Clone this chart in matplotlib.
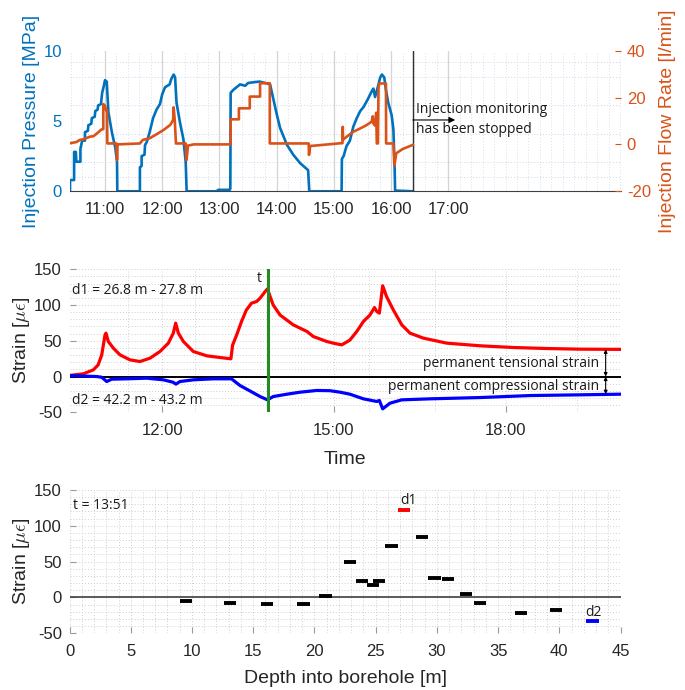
import matplotlib
matplotlib.use("Agg")
import matplotlib.pyplot as plt
from matplotlib.ticker import FixedLocator, MultipleLocator

plt.rcParams["font.family"] = ["Liberation Sans", "DejaVu Sans"]
plt.rcParams["mathtext.fontset"] = "cm"
plt.rcParams["axes.unicode_minus"] = False

# ---------------- injection record (time in decimal hours) ----------------
p_time = [10.388, 10.388, 10.46, 10.46, 10.49, 10.50, 10.57, 10.57, 10.60, 10.65, 10.65,
          10.70, 10.71, 10.76, 10.77, 10.82, 10.83, 10.87, 10.88, 10.93, 10.95, 10.98,
          11.00, 11.03, 11.06, 11.12, 11.18, 11.21, 11.215,
          11.61, 11.61, 11.64, 11.64, 11.69, 11.70, 11.73, 11.78, 11.84, 11.90, 11.96,
          12.00, 12.05, 12.13, 12.16, 12.20, 12.225, 12.25, 12.31, 12.37, 12.41, 12.427,
          12.95, 12.98, 13.18, 13.19, 13.196, 13.24, 13.30, 13.36, 13.45, 13.50, 13.59,
          13.70, 13.80, 13.885, 13.94, 14.00, 14.06, 14.18, 14.29, 14.41, 14.55, 14.57,
          15.135, 15.14, 15.17, 15.22, 15.28, 15.34, 15.40, 15.46, 15.52, 15.60, 15.66,
          15.69, 15.72, 15.78, 15.81, 15.84, 15.88, 15.91, 15.95, 16.01, 16.04, 16.06,
          16.07, 16.38]
p_mpa = [0.0, 0.8, 0.8, 2.8, 2.8, 2.1, 2.1, 3.0, 3.6, 3.6, 4.2,
         4.3, 4.7, 4.8, 5.2, 5.3, 5.7, 5.8, 6.1, 6.2, 7.0, 7.5,
         7.9, 7.8, 5.6, 4.2, 3.1, 2.1, 0.0,
         0.0, 1.7, 1.8, 2.5, 2.6, 3.3, 3.5, 4.2, 5.2, 5.8, 6.2,
         6.9, 7.4, 7.6, 8.0, 8.3, 8.1, 6.3, 4.9, 3.7, 2.1, 0.0,
         0.0, 0.1, 0.1, 0.2, 7.0, 7.2, 7.4, 7.6, 7.5, 7.7, 7.75,
         7.8, 7.7, 7.6, 6.6, 5.5, 4.5, 3.3, 2.6, 2.0, 1.5, 0.0,
         0.0, 2.3, 2.5, 3.2, 3.6, 4.6, 5.2, 5.7, 6.0, 6.6, 7.1,
         7.3, 6.7, 7.6, 8.1, 8.3, 8.1, 7.2, 6.3, 5.4, 4.4, 2.0,
         0.05, 0.0]

q_time = [10.388, 10.50, 10.56, 10.62, 10.74, 10.80, 10.86, 10.94, 10.97, 10.97, 11.00,
          11.02, 11.035, 11.04, 11.20, 11.21, 11.22,
          11.61, 11.66, 11.78, 11.90, 12.02, 12.14, 12.19, 12.20, 12.22, 12.24,
          12.41, 12.425, 12.45, 12.55,
          13.196, 13.196, 13.34, 13.34, 13.53, 13.53, 13.71, 13.71, 13.88, 13.88,
          14.56, 14.565, 14.585, 15.12, 15.15, 15.155, 15.16, 15.22, 15.34, 15.46,
          15.57, 15.66, 15.68, 15.69, 15.72, 15.74, 15.75, 15.77, 15.78, 15.79,
          15.91, 15.913, 16.04, 16.058, 16.09, 16.20, 16.30, 16.38]
q_lpm = [0.5, 1.0, 1.9, 2.2, 3.3, 3.5, 4.7, 6.4, 6.5, 17.2, 16.5,
         14.5, 14.5, 0.4, 0.4, -6.7, 0.0,
         0.4, 1.9, 2.6, 4.3, 6.1, 8.3, 10.4, 15.8, 10.0, 0.4,
         0.4, -6.7, -0.5, 0.0,
         0.0, 10.7, 10.7, 15.4, 15.4, 20.4, 20.4, 26.1, 26.1, 0.4,
         0.4, -4.5, -0.7, 0.5, 0.5, 7.5, 2.0, 3.2, 5.4, 6.8,
         8.2, 9.7, 12.0, 9.0, 8.0, 13.5, 0.4, 0.4, 24.0, 26.0,
         26.0, 0.4, 0.4, -9.0, -3.8, -2.0, -1.0, -0.2]

monitor_stop = 16.38
hour_ticks = [11, 12, 13, 14, 15, 16, 17]
hour_labels = ["11:00", "12:00", "13:00", "14:00", "15:00", "16:00", "17:00"]

# ---------------- strain time series ----------------
d1_time = [10.376, 10.62, 10.796, 10.88, 10.942, 11.0, 11.017, 11.058, 11.146, 11.262,
           11.437, 11.612, 11.787, 11.96, 12.107, 12.194, 12.235, 12.282, 12.37, 12.544,
           12.778, 13.01, 13.2, 13.23, 13.3, 13.386, 13.47, 13.56, 13.65, 13.71, 13.8,
           13.84, 13.885, 13.94, 14.06, 14.29, 14.53, 14.64, 14.876, 15.0, 15.138,
           15.28, 15.40, 15.516, 15.63, 15.71, 15.75, 15.795, 15.853, 15.92, 16.04,
           16.187, 16.33, 16.565, 16.974, 17.556, 18.14, 18.72, 19.30, 20.01]
d1_strain = [1.4, 3.8, 9.3, 16.3, 30, 58, 60.7, 49, 39.7, 30.3,
             23.3, 21, 25.7, 35, 46.7, 60.7, 74.7, 60.7, 49, 35,
             29, 26.6, 24.8, 44, 58, 77, 93, 102.6, 105, 109.6, 119,
             122.7, 112, 100, 86, 72.3, 63, 56, 49, 46.5, 44.3,
             51, 63, 77, 86, 96.5, 91, 88.7, 127, 112, 93,
             72.3, 60.7, 53.7, 46.7, 43, 40.6, 39.2, 38.3, 38]

d2_time = [10.376, 10.855, 10.942, 11.03, 11.117, 11.38, 11.73, 12.02, 12.19, 12.24,
           12.31, 12.544, 12.89, 13.21, 13.36, 13.53, 13.71, 13.84, 13.94, 14.18,
           14.41, 14.70, 14.93, 15.108, 15.28, 15.516, 15.75, 15.795, 15.853, 15.98,
           16.187, 16.68, 17.556, 18.43, 19.30, 20.01]
d2_strain = [1.4, 0, -1, -7, -3.7, -3.2, -2.3, -4.6, -8, -10.6,
             -7, -4.6, -3.2, -3.2, -12.6, -20, -28, -32.6, -28, -24.7,
             -21.9, -19.5, -19.8, -21.9, -24.7, -31.2, -34.9, -33.5, -45.2, -37.3,
             -32.6, -31.2, -29.4, -26.6, -25.6, -24.7]

t_snapshot = 13.85
strain_hours = [12, 15, 18]
strain_hour_labels = ["12:00", "15:00", "18:00"]

# ---------------- strain profile along the borehole at t ----------------
seg_start = [9.0, 12.6, 15.6, 18.6, 20.4, 22.4, 23.4, 24.3, 24.8, 25.8,
             28.3, 29.3, 30.4, 31.9, 33.0, 36.4, 39.2]
seg_strain = [-5.2, -7.5, -8.5, -9.4, 1.4, 49.8, 23.3, 17.7, 23.3, 71.3,
              84.8, 27.4, 26.0, 4.2, -8.0, -21.0, -17.8]
seg_length = 1.0
d1_range = (26.8, 27.8)
d2_range = (42.2, 43.2)
d1_at_t = 122.5
d2_at_t = -33.0

# ---------------- styling ----------------
C_P = "#0072BD"
C_Q = "#D95319"
C_TXT = "#262626"
GRID_MAJ = "#d4d4d4"
GRID_MIN = "#cfcfcf"
ANN_FONT = ["Open Sans", "DejaVu Sans"]
XLIM = (10.38, 20.01)

fig = plt.figure(figsize=(6.85, 6.9), dpi=100)
L, W = 0.1015, 0.8044
ax1 = fig.add_axes([L, 0.7228, W, 0.2038])
axm = fig.add_axes([L, 0.4025, W, 0.2072])
axb = fig.add_axes([L, 0.0822, W, 0.2077])


def clean(ax, keep_bottom=False):
    for s in ["top", "right", "left"]:
        ax.spines[s].set_visible(False)
    ax.spines["bottom"].set_visible(keep_bottom)


# ---- top panel: pressure and flow rate ----
ax2 = ax1.twinx()
clean(ax1, keep_bottom=True)
clean(ax2)
ax1.spines["bottom"].set_color("#404040")
ax1.set_xlim(*XLIM)
ax1.set_ylim(0, 10)
ax2.set_ylim(-20, 40)
ax1.set_xticks(hour_ticks)
ax1.set_xticklabels(hour_labels)
ax1.xaxis.set_minor_locator(MultipleLocator(0.2))
ax1.set_yticks([0, 5, 10])
ax1.yaxis.set_minor_locator(FixedLocator([1, 2.1, 4.1, 6.1, 8.15, 9.2]))
ax2.set_yticks([-20, 0, 20, 40])
ax1.grid(True, which="major", axis="x", color=GRID_MAJ, lw=0.9, ls="-")
ax1.grid(True, which="minor", axis="x", color="#d6e0ea", lw=0.7, ls=(0, (1, 2)))
ax1.grid(True, which="minor", axis="y", color="#c9daea", lw=0.7, ls=(0, (1, 2)))
ax1.tick_params(axis="x", which="both", length=0, pad=8, labelsize=12, labelcolor=C_TXT)
ax1.tick_params(axis="y", which="both", length=0, pad=5.5, labelsize=12, labelcolor=C_P)
ax2.tick_params(axis="y", which="major", direction="in", length=4, color=C_Q, pad=4.5,
                labelsize=12, labelcolor=C_Q)
ax2.tick_params(axis="y", which="minor", length=0)
ax1.set_ylabel("Injection Pressure [MPa]", color=C_P, fontsize=14)
ax1.yaxis.set_label_coords(-0.053, 0.5)
ax2.set_ylabel("Injection Flow Rate [l/min]", color=C_Q, fontsize=14)
ax2.yaxis.set_label_coords(1.069, 0.5)

ax1.plot(p_time, p_mpa, color=C_P, lw=1.9, zorder=3)
ax2.plot(q_time, q_lpm, color=C_Q, lw=1.9, zorder=3)
ax1.axvline(monitor_stop, color="#303030", lw=1.0, zorder=4)
ax1.annotate("", xy=(17.12, 5.07), xytext=(monitor_stop, 5.07),
             arrowprops=dict(arrowstyle="-|>", color="black", lw=0.8,
                             mutation_scale=9, shrinkA=0, shrinkB=0), zorder=5)
ax1.text(monitor_stop + 0.06, 5.78, "Injection monitoring", fontsize=10,
         family=ANN_FONT, color="#1a1a1a", va="center", ha="left")
ax1.text(monitor_stop + 0.06, 4.41, "has been stopped", fontsize=10,
         family=ANN_FONT, color="#1a1a1a", va="center", ha="left")

# ---- middle panel: strain history at two depth intervals ----
clean(axm)
axm.set_xlim(*XLIM)
axm.set_ylim(-50, 150)
axm.set_xticks(strain_hours)
axm.set_xticklabels(strain_hour_labels)
axm.set_yticks([-50, 0, 50, 100, 150])
axm.xaxis.set_minor_locator(FixedLocator([11.4, 12.58, 15.62, 16.77, 19.25]))
axm.yaxis.set_minor_locator(MultipleLocator(10))
axm.grid(True, which="both", color=GRID_MIN, lw=0.7, ls=(0, (1, 2)))
axm.tick_params(which="major", direction="in", length=4, color="#9a9a9a",
                labelsize=12, labelcolor=C_TXT)
axm.tick_params(axis="x", which="major", pad=8)
axm.tick_params(axis="y", which="major", pad=5.5)
axm.tick_params(which="minor", length=0)
axm.set_ylabel(r"Strain [$\mu\epsilon$]", fontsize=14, color=C_TXT)
axm.yaxis.set_label_coords(-0.069, 0.5)
axm.set_xlabel("Time", fontsize=14, color=C_TXT, va="top")
axm.xaxis.set_label_coords(0.5, -0.27)

axm.axhline(0, color="black", lw=1.4, zorder=2)
axm.plot(d1_time, d1_strain, color="#ff0000", lw=2.3, zorder=3)
axm.plot(d2_time, d2_strain, color="#0000ff", lw=2.3, zorder=3)
axm.axvline(t_snapshot, color="#228b22", lw=2.2, zorder=4)
axm.text(13.70, 137, "t", fontsize=10, family=ANN_FONT, ha="center", va="center",
         color="#1a1a1a")
axm.text(10.43, 121, "d1 = 26.8 m - 27.8 m", fontsize=10, family=ANN_FONT,
         va="center", ha="left", color="#1a1a1a")
axm.text(10.43, -34, "d2 = 42.2 m - 43.2 m", fontsize=10, family=ANN_FONT,
         va="center", ha="left", color="#1a1a1a")
arrow_t = 19.75
axm.annotate("", xy=(arrow_t, d1_strain[-1]), xytext=(arrow_t, 0),
             arrowprops=dict(arrowstyle="<|-|>", color="black", lw=0.8,
                             mutation_scale=5, shrinkA=0, shrinkB=0))
axm.annotate("", xy=(arrow_t, d2_strain[-1]), xytext=(arrow_t, 0),
             arrowprops=dict(arrowstyle="<|-|>", color="black", lw=0.8,
                             mutation_scale=5, shrinkA=0, shrinkB=0))
axm.text(19.64, 18.7, "permanent tensional strain", fontsize=10, family=ANN_FONT,
         ha="right", va="center", color="#1a1a1a")
axm.text(19.64, -14, "permanent compressional strain", fontsize=10, family=ANN_FONT,
         ha="right", va="center", color="#1a1a1a")

# ---- bottom panel: strain profile at t ----
clean(axb)
axb.set_xlim(0, 45)
axb.set_ylim(-50, 150)
axb.set_xticks(range(0, 46, 5))
axb.set_yticks([-50, 0, 50, 100, 150])
axb.xaxis.set_minor_locator(MultipleLocator(1))
axb.yaxis.set_minor_locator(MultipleLocator(10))
axb.grid(True, which="both", color=GRID_MIN, lw=0.7, ls=(0, (1, 2)))
axb.tick_params(which="major", direction="in", length=4, color="#9a9a9a",
                labelsize=12, labelcolor=C_TXT)
axb.tick_params(axis="x", which="major", pad=8)
axb.tick_params(axis="y", which="major", pad=5.5)
axb.tick_params(which="minor", length=0)
axb.set_ylabel(r"Strain [$\mu\epsilon$]", fontsize=14, color=C_TXT)
axb.yaxis.set_label_coords(-0.069, 0.5)
axb.set_xlabel("Depth into borehole [m]", fontsize=14, color=C_TXT, va="top")
axb.xaxis.set_label_coords(0.5, -0.256)

axb.axhline(0, color="#404040", lw=1.2, zorder=2)
seg_end = [s + seg_length for s in seg_start]
axb.hlines(seg_strain, seg_start, seg_end, colors="black", lw=2.8, zorder=3)
axb.hlines([d1_at_t], [d1_range[0]], [d1_range[1]], colors="#ff0000", lw=2.8, zorder=3)
axb.hlines([d2_at_t], [d2_range[0]], [d2_range[1]], colors="#0000ff", lw=2.8, zorder=3)
axb.text(27.65, 136, "d1", fontsize=10, family=ANN_FONT, ha="center", va="center",
         color="#1a1a1a")
axb.text(42.75, -21.5, "d2", fontsize=10, family=ANN_FONT, ha="center", va="center",
         color="#1a1a1a")
axb.text(0.28, 129, "t = 13:51", fontsize=10, family=ANN_FONT, ha="left", va="center",
         color="#1a1a1a")

fig.savefig("out.png", dpi=100)
